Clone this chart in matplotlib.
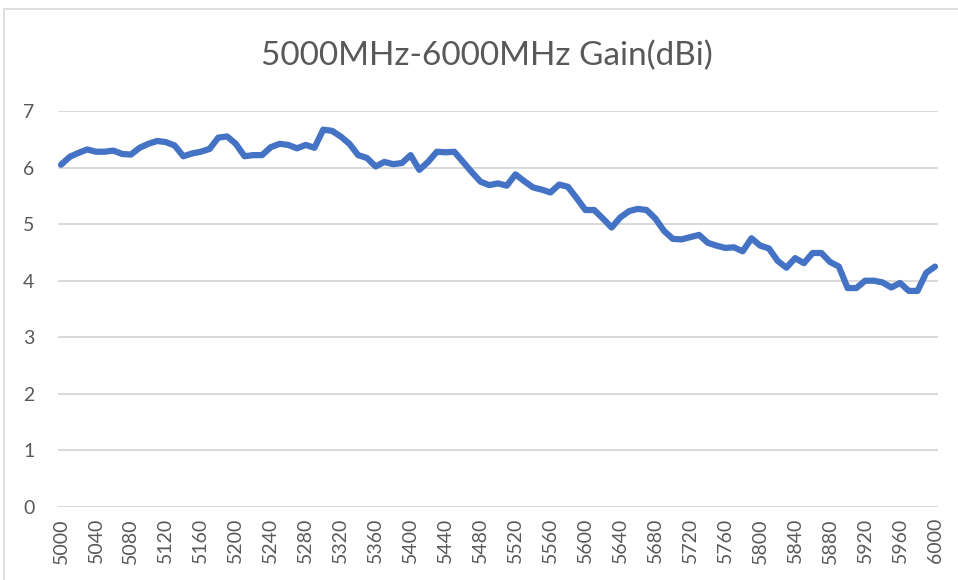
import matplotlib
matplotlib.use("Agg")
import matplotlib.pyplot as plt
from matplotlib.patches import Rectangle

freq_mhz = list(range(5000, 6001, 10))
gain_dbi = [
    6.05, 6.19, 6.26, 6.32, 6.28, 6.28, 6.30, 6.24, 6.23, 6.35,
    6.42, 6.47, 6.45, 6.39, 6.20, 6.25, 6.28, 6.33, 6.53, 6.55,
    6.42, 6.20, 6.22, 6.22, 6.36, 6.42, 6.40, 6.34, 6.40, 6.35,
    6.67, 6.65, 6.55, 6.42, 6.22, 6.17, 6.02, 6.10, 6.06, 6.08,
    6.22, 5.96, 6.10, 6.28, 6.27, 6.28, 6.10, 5.92, 5.75, 5.69,
    5.72, 5.68, 5.88, 5.76, 5.65, 5.61, 5.56, 5.70, 5.66, 5.46,
    5.25, 5.25, 5.10, 4.94, 5.12, 5.23, 5.27, 5.25, 5.10, 4.88,
    4.74, 4.73, 4.77, 4.81, 4.67, 4.62, 4.58, 4.59, 4.52, 4.75,
    4.62, 4.57, 4.35, 4.23, 4.40, 4.31, 4.49, 4.49, 4.33, 4.25,
    3.87, 3.87, 4.00, 4.00, 3.97, 3.88, 3.96, 3.82, 3.82, 4.14,
    4.25,
]
x_ticks = list(range(5000, 6001, 40))
y_ticks = list(range(0, 8))
title = "5000MHz-6000MHz Gain(dBi)"

W, H = 958, 580
fig = plt.figure(figsize=(W / 100, H / 100), dpi=100)
fig.patch.set_facecolor("white")

# chart border (only left/top visible in the crop)
fig.patches.append(Rectangle((4 / W, -0.1), 1.2, 1.1 - 9 / H,
                             transform=fig.transFigure, fill=False,
                             edgecolor="#D9D9D9", linewidth=1.2))

ax = fig.add_axes([58 / W, (H - 507) / H, 880 / W, (507 - 111) / H])
ax.plot(freq_mhz, gain_dbi, color="#4472C4", linewidth=4.5,
        solid_joinstyle="round", solid_capstyle="round", zorder=3)

ax.set_xlim(5000 - 3 / 0.874, 6000 + 3 / 0.874)
ax.set_ylim(0, 7)
ax.set_xticks(x_ticks)
ax.set_xticklabels([str(v) for v in x_ticks], rotation=90)
ax.set_yticks(y_ticks)
ax.set_yticklabels([str(v) for v in y_ticks])
ax.grid(axis="y", color="#D9D9D9", linewidth=1.4, zorder=0)
ax.set_axisbelow(True)
for s in ax.spines.values():
    s.set_visible(False)
ax.tick_params(axis="both", length=0, colors="#595959", labelsize=14)
ax.tick_params(axis="x", pad=8)
ax.tick_params(axis="y", pad=17)
for lab in ax.get_xticklabels() + ax.get_yticklabels():
    lab.set_family("Lato")

fig.text(487 / W, 1 - 56 / H, title, ha="center", va="center",
         fontsize=24, color="#595959", family="Lato")

fig.savefig("out.png", dpi=100, facecolor="white")
